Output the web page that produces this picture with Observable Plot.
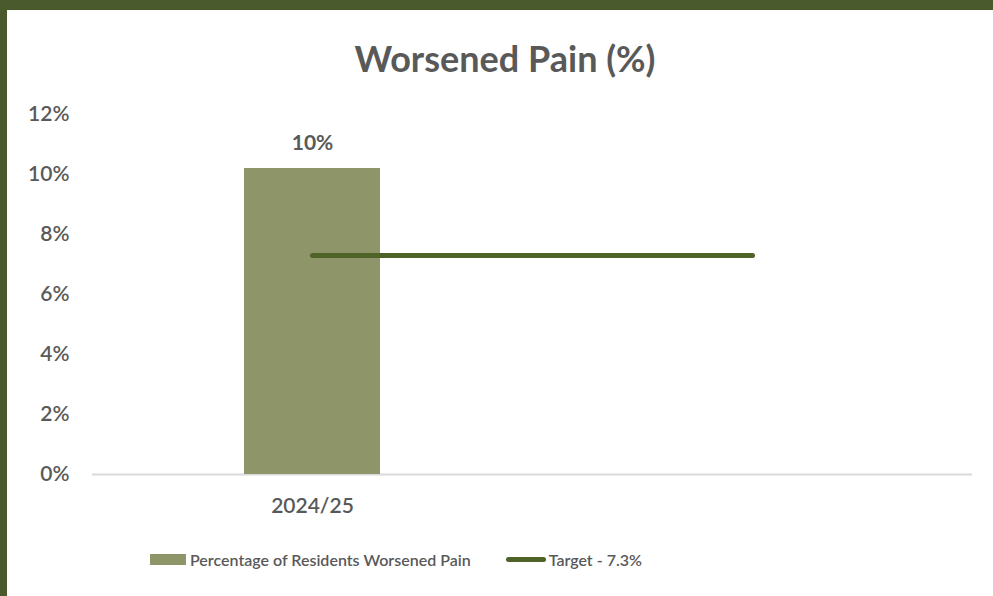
<!DOCTYPE html>
<html>
<head>
<meta charset="utf-8">
<script src="https://cdn.jsdelivr.net/npm/d3@7"></script>
<script src="https://cdn.jsdelivr.net/npm/@observablehq/plot@0.6"></script>
<style>
  html, body { margin: 0; padding: 0; }
  body { width: 993px; height: 596px; background: #4B5A2D; position: relative; overflow: hidden; font-family: Lato, "Open Sans", sans-serif; }
  #panel { position: absolute; left: 7px; top: 10px; width: 986px; height: 586px; background: #fff; }
  #title { position: absolute; left: 0; top: 36px; width: 1010px; text-align: center; font-size: 36px; font-weight: 700; color: #595959; line-height: 44px; }
  #chart { position: absolute; left: 0; top: 95px; }
  #legend { position: absolute; left: 150px; top: 550px; display: flex; align-items: center; font-size: 16px; font-weight: 600; color: #595959; }
  .sw-bar { width: 36px; height: 11px; background: #8E9669; margin-right: 4px; }
  .sw-line { width: 40px; height: 5px; border-radius: 3px; background: #4F6228; margin-left: 35px; margin-right: 3px; }
</style>
</head>
<body>
<div id="panel"></div>
<div id="title">Worsened Pain (%)</div>
<div id="chart"></div>
<div id="legend">
  <span class="sw-bar"></span><span id="lg1"></span>
  <span class="sw-line"></span><span id="lg2"></span>
</div>
<script>
const categories = ["2024/25", ""];
const barCategories = ["2024/25"];
const barValues = [10.2];
const barLabels = ["10%"];
const targetValue = 7.3;
const yTicks = [0, 2, 4, 6, 8, 10, 12];
const seriesNames = ["Percentage of Residents Worsened Pain", "Target - 7.3%"];

const bars = barCategories.map((c, i) => ({category: c, value: barValues[i], label: barLabels[i]}));
const target = categories.map(c => ({category: c, value: targetValue}));

document.getElementById("lg1").textContent = seriesNames[0];
document.getElementById("lg2").textContent = seriesNames[1];

const chart = Plot.plot({
  width: 993,
  height: 430,
  marginLeft: 92,
  marginRight: 21,
  marginTop: 19,
  marginBottom: 51,
  style: {fontFamily: "Lato, 'Open Sans', sans-serif", fontSize: "21px", fontWeight: 600, color: "#595959", background: "transparent", overflow: "visible"},
  x: {domain: categories, paddingInner: 0.69, paddingOuter: 0.345, label: null, tickSize: 0, tickPadding: 24},
  y: {domain: [0, 12], ticks: yTicks, tickFormat: d => d + "%", label: null, tickSize: 0, tickPadding: 23},
  marks: [
    Plot.ruleY([0], {stroke: "#D9D9D9", strokeWidth: 2}),
    Plot.barY(bars, {x: "category", y: "value", fill: "#8E9669"}),
    Plot.text(bars, {x: "category", y: "value", text: "label", dy: -25, fill: "#595959", fontSize: 21, fontWeight: 700}),
    Plot.lineY(target, {x: "category", y: "value", stroke: "#4F6228", strokeWidth: 5, strokeLinecap: "round"})
  ]
});
document.getElementById("chart").appendChild(chart);
</script>
</body>
</html>
